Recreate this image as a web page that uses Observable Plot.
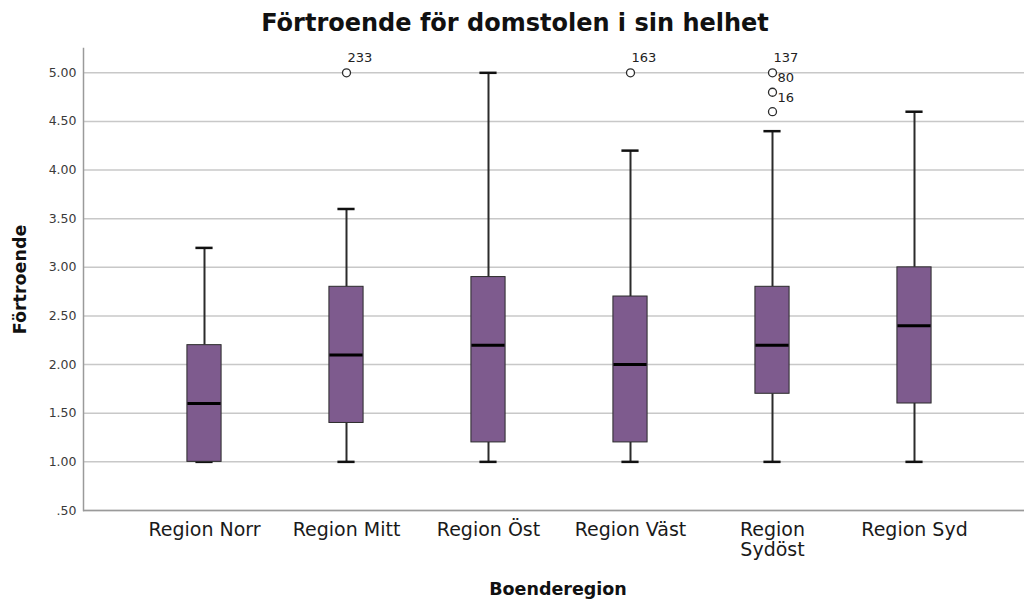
<!DOCTYPE html>
<html>
<head>
<meta charset="utf-8">
<script src="https://cdn.jsdelivr.net/npm/d3@7"></script>
<script src="https://cdn.jsdelivr.net/npm/@observablehq/plot@0.6"></script>
<style>
  body { margin: 0; background: #fff; font-family: "DejaVu Sans", sans-serif; }
  #title { height: 44px; line-height: 46px; font-size: 24px; font-weight: bold; text-align: center; padding-left: 6px; color: #111; }
  #chart svg { display: block; }
</style>
</head>
<body>
<div id="title">Förtroende för domstolen i sin helhet</div>
<div id="chart"></div>
<script>
const regions = ["Region Norr", "Region Mitt", "Region Öst", "Region Väst", "Region Sydöst", "Region Syd"];
const mins    = [1.0, 1.0, 1.0, 1.0, 1.0, 1.0];
const q1s     = [1.0, 1.4, 1.2, 1.2, 1.7, 1.6];
const medians = [1.6, 2.1, 2.2, 2.0, 2.2, 2.4];
const q3s     = [2.2, 2.8, 2.9, 2.7, 2.8, 3.0];
const maxs    = [3.2, 3.6, 5.0, 4.2, 4.4, 4.6];

const outlierRegions = ["Region Mitt", "Region Väst", "Region Sydöst", "Region Sydöst", "Region Sydöst"];
const outlierValues  = [5.0, 5.0, 5.0, 4.8, 4.6];
const outlierIds     = ["233", "163", "137", "80", "16"];

const yTicks = [0.5, 1, 1.5, 2, 2.5, 3, 3.5, 4, 4.5, 5];

const stats = regions.map((r, i) => ({region: r, min: mins[i], q1: q1s[i], median: medians[i], q3: q3s[i], max: maxs[i]}));
const outliers = outlierRegions.map((r, i) => ({region: r, value: outlierValues[i], id: outlierIds[i]}));
const topOut = outliers.filter(d => d.value === 5.0);
const lowOut = outliers.filter(d => d.value !== 5.0);

const fmtY = d => { const s = d.toFixed(2); return d < 1 ? s.replace(/^0/, "") : s; };
const wrapX = d => d === "Region Sydöst" ? "Region\nSydöst" : d;

const xRange = [130, 987];
const band = (xRange[1] - xRange[0]) / regions.length;
const boxW = 35, capW = 18;
const fill = "#7e5b8e", ink = "#2b2b2b";

const chart = Plot.plot({
  width: 1024,
  height: 559,
  marginTop: 4,
  marginBottom: 93,
  marginLeft: 83,
  marginRight: 0,
  style: {fontFamily: "DejaVu Sans, sans-serif", fontSize: "12px", color: "#333", background: "white"},
  x: {type: "band", domain: regions, range: xRange, padding: 0, label: null},
  y: {domain: [0.5, 5.25], label: null},
  marks: [
    Plot.gridY(yTicks, {stroke: "#c8c8c8", strokeOpacity: 1, strokeWidth: 1.5}),
    Plot.axisY(yTicks, {tickSize: 0, tickPadding: 7, tickFormat: fmtY, fontSize: 12.5, fill: "#3a3a3a", label: null}),
    Plot.axisX({tickSize: 0, tickPadding: 11, tickFormat: wrapX, fontSize: 19, lineHeight: 1.05, fill: "#1a1a1a", label: null}),
    Plot.ruleY([0.5], {stroke: "#9a9a9a", strokeWidth: 1.5}),
    Plot.frame({anchor: "left", stroke: "#9a9a9a", strokeWidth: 1.5}),
    // whiskers
    Plot.ruleX(stats, {x: "region", y1: "q3", y2: "max", stroke: ink, strokeWidth: 2}),
    Plot.ruleX(stats, {x: "region", y1: "min", y2: "q1", stroke: ink, strokeWidth: 2}),
    Plot.tickY(stats, {x: "region", y: "max", stroke: "#111", strokeWidth: 2.5, insetLeft: (band - capW) / 2, insetRight: (band - capW) / 2}),
    Plot.tickY(stats, {x: "region", y: "min", stroke: "#111", strokeWidth: 2.5, insetLeft: (band - capW) / 2, insetRight: (band - capW) / 2}),
    // boxes
    Plot.barY(stats, {x: "region", y1: "q1", y2: "q3", fill: fill, stroke: ink, strokeWidth: 1, insetLeft: (band - boxW) / 2, insetRight: (band - boxW) / 2}),
    Plot.tickY(stats, {x: "region", y: "median", stroke: "#000", strokeWidth: 3, insetLeft: (band - boxW) / 2 + 0.5, insetRight: (band - boxW) / 2 + 0.5}),
    // outliers
    Plot.dot(outliers, {x: "region", y: "value", r: 4, stroke: ink, strokeWidth: 1.3, fill: "white"}),
    Plot.text(topOut, {x: "region", y: "value", text: "id", textAnchor: "start", dx: 1, dy: -15, fontSize: 13, fill: "#222"}),
    Plot.text(lowOut, {x: "region", y: "value", text: "id", textAnchor: "start", dx: 5, dy: -14, fontSize: 13, fill: "#222"}),
    // axis titles
    Plot.text(["Boenderegion"], {frameAnchor: "bottom", dx: 4, dy: 84, fontSize: 17.5, fontWeight: "bold", fill: "#111"}),
    Plot.text(["Förtroende"], {frameAnchor: "left", textAnchor: "middle", dx: -63, rotate: -90, fontSize: 17.5, fontWeight: "bold", fill: "#111"})
  ]
});
document.getElementById("chart").appendChild(chart);
</script>
</body>
</html>
